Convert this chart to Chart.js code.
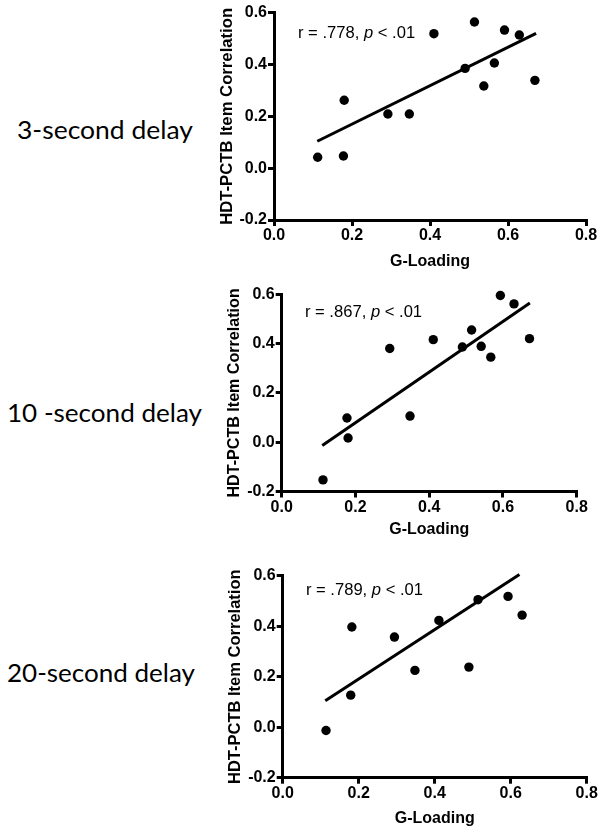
<!DOCTYPE html>
<html><head><meta charset="utf-8">
<script src="https://cdn.jsdelivr.net/npm/chart.js@4"></script>
<style>
html,body{margin:0;padding:0;background:#fff;width:604px;height:835px;overflow:hidden;}
canvas{position:absolute;}
.lbl{position:absolute;font-family:Lato,"Open Sans",sans-serif;font-size:25.5px;line-height:1;color:#000;white-space:nowrap;transform-origin:0 0;}
</style></head><body>
<div class="lbl" id="l0"></div>
<div class="lbl" id="l1"></div>
<div class="lbl" id="l2"></div>
<canvas id="c0"></canvas>
<canvas id="c1"></canvas>
<canvas id="c2"></canvas>
<script>
// ---- data ----
const panelLabels = ["3-second delay", "10 -second delay", "20-second delay"];
const rValues = [".778", ".867", ".789"];
const xTicks = [0.0, 0.2, 0.4, 0.6, 0.8];
const yTicks = [-0.2, 0.0, 0.2, 0.4, 0.6];
const xTitle = "G-Loading";
const yTitle = "HDT-PCTB Item Correlation";

const gLoad3 = [0.112,0.178,0.180,0.292,0.347,0.410,0.490,0.514,0.538,0.565,0.591,0.629,0.669];
const corr3  = [0.042,0.047,0.262,0.209,0.209,0.519,0.385,0.564,0.317,0.406,0.533,0.514,0.339];
const fit3X = [0.111, 0.672];
const fit3Y = [0.104, 0.520];

const gLoad10 = [0.112,0.177,0.180,0.293,0.348,0.411,0.490,0.515,0.541,0.567,0.593,0.630,0.672];
const corr10  = [-0.153,0.098,0.017,0.380,0.106,0.416,0.386,0.455,0.389,0.345,0.595,0.561,0.420];
const fit10X = [0.110, 0.673];
const fit10Y = [-0.013, 0.565];

const gLoad20 = [0.114,0.179,0.182,0.294,0.348,0.411,0.490,0.514,0.593,0.630];
const corr20  = [-0.013,0.127,0.397,0.357,0.225,0.423,0.238,0.505,0.518,0.444];
const fit20X = [0.112, 0.623];
const fit20Y = [0.105, 0.605];

// ---- layout ----
const panels = [
  {xs:gLoad3, ys:corr3, fx:fit3X, fy:fit3Y, box:{left:200,top:0,w:404,h:275}, plot:{left:274,right:586,top:12.7,bottom:220}, yTitleX:227, xTitleY:261, ann:{x:0.0615,y:0.502}, tSize:16.7},
  {xs:gLoad10, ys:corr10, fx:fit10X, fy:fit10Y, box:{left:200,top:275,w:404,h:275}, plot:{left:281.7,right:576.7,top:294.3,bottom:491.5}, yTitleX:235, xTitleY:530, ann:{x:0.063,y:0.509}, tSize:16.1},
  {xs:gLoad20, ys:corr20, fx:fit20X, fy:fit20Y, box:{left:200,top:535,w:404,h:300}, plot:{left:282.7,right:586.7,top:575.7,bottom:777.7}, yTitleX:235, xTitleY:818, ann:{x:0.061,y:0.524}, tSize:16.5}
];
const labelPos = [{left:17, base:140, w:176},{left:7, base:423, w:195},{left:7, base:682.7, w:188}];

labelPos.forEach((p,i)=>{
  const d = document.getElementById('l'+i);
  d.textContent = panelLabels[i];
  d.style.left = p.left+'px';
  d.style.top = (p.base - 0.887*25.5)+'px';
  const w = d.getBoundingClientRect().width;
  d.style.transform = 'scaleX('+(p.w/w)+')';
});

const FONT = '"Liberation Sans", Arial, sans-serif';
const annPlugin = {
  id:'ann',
  afterDatasetsDraw(chart, args, opts){
    const {ctx} = chart; const x = chart.scales.x, y = chart.scales.y;
    const px = x.getPixelForValue(opts.x), py = y.getPixelForValue(opts.y);
    ctx.save(); ctx.fillStyle='#000'; ctx.textAlign='left'; ctx.textBaseline='alphabetic';
    const parts = [['r = '+opts.r+', ','normal'],['p','italic'],[' < .01','normal']];
    let cx = px;
    for (const [t,st] of parts){ ctx.font = st+' 16.6px '+FONT; ctx.fillText(t,cx,py); cx += ctx.measureText(t).width; }
    ctx.restore();
  }
};

panels.forEach((P,i)=>{
  const cv = document.getElementById('c'+i);
  cv.style.left = P.box.left+'px'; cv.style.top = P.box.top+'px';
  cv.width = P.box.w; cv.height = P.box.h;
  cv.style.width = P.box.w+'px'; cv.style.height = P.box.h+'px';
  const yW = P.plot.left - P.box.left;
  const xH = P.box.top + P.box.h - P.plot.bottom;
  const padR = P.box.left + P.box.w - P.plot.right;
  const padT = P.plot.top - P.box.top;
  const tLH = P.tSize*1.2;
  const yTitlePad = (P.yTitleX - P.box.left) - tLH/2;
  const xTitlePad = (P.box.top + P.box.h - P.xTitleY) - tLH/2;
  new Chart(cv, {
    type:'scatter',
    data:{datasets:[
      {data:P.xs.map((x,k)=>({x, y:P.ys[k]})), backgroundColor:'#000', borderColor:'#000', pointRadius:4.7, pointHoverRadius:4.7, borderWidth:0, clip:false},
      {data:P.fx.map((x,k)=>({x, y:P.fy[k]})), showLine:true, borderColor:'#000', borderWidth:3, pointRadius:0, fill:false, clip:false}
    ]},
    options:{
      responsive:false, animation:false, devicePixelRatio:1, events:[],
      layout:{autoPadding:false, padding:{left:0,right:padR,top:padT,bottom:0}},
      plugins:{legend:{display:false}, tooltip:{enabled:false}, ann:{x:P.ann.x, y:P.ann.y, r:rValues[i]}},
      scales:{
        x:{type:'linear', min:0, max:0.8,
          afterBuildTicks:s=>{s.ticks = xTicks.map(v=>({value:v}));},
          ticks:{callback:v=>Number(v).toFixed(1), color:'#000', font:{family:FONT, weight:'bold', size:16}, padding:0, maxRotation:0, autoSkip:false},
          grid:{display:true, drawOnChartArea:false, drawTicks:true, tickLength:6, color:'#000', lineWidth:3},
          border:{display:true, color:'#000', width:3},
          title:{display:true, text:xTitle, color:'#000', font:{family:FONT, weight:'bold', size:16}, padding:{top:0,bottom:xTitlePad}},
          afterFit:s=>{s.height = xH;}
        },
        y:{type:'linear', min:-0.2, max:0.6,
          afterBuildTicks:s=>{s.ticks = yTicks.map(v=>({value:v}));},
          ticks:{callback:v=>Number(v).toFixed(1), color:'#000', font:{family:FONT, weight:'bold', size:16}, padding:1, autoSkip:false},
          grid:{display:true, drawOnChartArea:false, drawTicks:true, tickLength:6, color:'#000', lineWidth:3},
          border:{display:true, color:'#000', width:3},
          title:{display:true, text:yTitle, color:'#000', font:{family:FONT, weight:'bold', size:P.tSize}, padding:{top:yTitlePad,bottom:0}},
          afterFit:s=>{s.width = yW;}
        }
      }
    },
    plugins:[annPlugin]
  });
});
</script>
</body></html>
